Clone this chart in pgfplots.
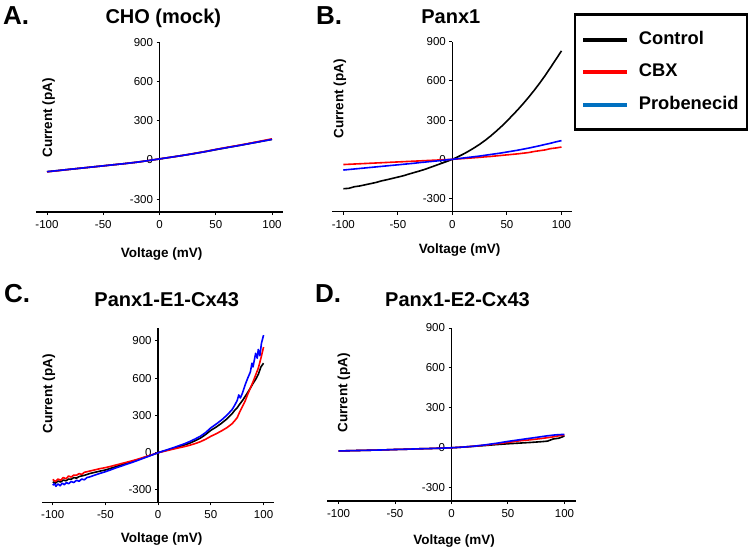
\documentclass[border=0pt]{standalone}
\usepackage{fontspec}
\setmainfont{Liberation Sans}
\usepackage{pgfplots}
\usepackage{pgfplotstable}
\pgfplotsset{compat=1.18}
\definecolor{legblue}{RGB}{0,112,192}

\pgfplotstableread{
V ctl cbx prb
-100 -90 -91 -90
-90 -81 -82 -81
-80 -72 -72 -72
-70 -63 -63 -63
-60 -54 -54 -54
-50 -45 -45 -45
-40 -36 -36 -36
-30 -27 -27 -27
-20 -17 -17 -17
-10 -5 -5 -5
0 8 8 8
10 21 21 21
20 34 34 34
30 48 49 48
40 63 64 63
50 79 81 80
60 95 97 95
70 110 112 110
80 126 128 126
90 142 145 142
100 158 162 158
}\tabA

\pgfplotstableread{
V ctl cbx prb
-100 -225 -40 -82
-95 -222 -38 -78
-90 -210 -36 -74
-85 -204 -34 -70
-80 -195 -32 -66
-75 -186 -30 -62
-70 -177 -28 -58
-65 -165 -26 -54
-60 -156 -24 -50
-55 -146 -22 -46
-50 -136 -20 -42
-45 -126 -18 -38
-40 -113 -16 -34
-35 -101 -14 -30
-30 -89 -12 -25
-25 -76 -10 -21
-20 -61 -8 -17
-15 -46 -6 -13
-10 -31 -4 -9
-5 -16 -2 -4
0 0 0 0
5 19 3 5
10 40 6 10
15 63 9 15
20 88 12 20
25 115 15 25
30 145 19 31
35 178 22 37
40 214 26 43
45 252 30 49
50 293 34 56
55 336 38 63
60 380 42 70
65 427 47 78
70 476 52 86
75 528 60 95
80 583 66 104
85 641 72 114
90 703 82 123
95 766 87 134
100 830 94 143
}\tabB

\pgfplotstableread{
V I
-100 -235
-97.5 -245
-95 -228
-92.5 -236
-90 -220
-87.5 -226
-85 -212
-82.5 -214
-80 -200
-77.5 -205
-75 -192
-70 -182
-65 -168
-60 -158
-55 -148
-50 -139
-45 -126
-40 -112
-35 -99
-30 -86
-25 -72
-20 -58
-15 -44
-10 -29
-5 -15
0 0
5 12
10 24
15 37
20 49
25 62
30 77
35 96
40 117
45 146
50 180
55 206
60 236
65 270
70 312
72.5 340
75 362
77.5 392
80 420
82.5 452
85 485
87.5 520
90 557
92.5 590
95 630
97.5 690
100 720
}\tabCctl

\pgfplotstableread{
V I
-100 -215
-97.5 -232
-95 -212
-92.5 -222
-90 -200
-87.5 -210
-85 -188
-82.5 -196
-80 -180
-77.5 -182
-75 -168
-72.5 -175
-70 -158
-65 -148
-60 -138
-55 -128
-50 -120
-45 -110
-40 -99
-35 -88
-30 -77
-25 -66
-20 -54
-15 -41
-10 -27
-5 -14
0 0
5 10
10 20
15 30
20 40
25 49
30 60
35 73
40 88
45 108
50 132
55 152
60 175
65 200
70 232
72.5 256
75 282
77.5 330
80 372
82.5 415
85 470
87.5 520
90 570
92.5 625
95 680
97.5 760
100 850
}\tabCcbx

\pgfplotstableread{
V I
-100 -262
-98.5 -248
-97 -270
-95 -252
-93 -266
-91 -245
-89 -258
-87 -240
-85 -250
-82.5 -232
-80 -240
-77.5 -222
-75 -230
-72.5 -212
-70 -218
-67.5 -200
-65 -195
-60 -180
-55 -166
-50 -153
-45 -138
-40 -122
-35 -108
-30 -93
-25 -79
-20 -64
-15 -48
-10 -32
-5 -16
0 0
5 14
10 28
15 42
20 57
25 72
30 90
35 110
40 132
45 162
50 200
55 230
60 262
65 300
70 345
72.5 380
75 420
76.5 465
78 440
80 480
82.5 545
85 600
87.5 650
89 720
90 690
92.5 800
94 760
95 830
96.5 780
98 880
100 946
}\tabCprb

\pgfplotstableread{
V ctl cbx prb
-100 -24 -24 -24
-90 -22 -22 -22
-80 -20 -20 -20
-70 -18 -18 -18
-60 -16 -16 -16
-50 -13 -13 -13
-40 -11 -11 -11
-30 -8 -8 -8
-20 -6 -6 -6
-10 -3 -3 -3
0 0 0 0
10 5 5 5
20 11 12 12
30 17 20 22
40 24 30 34
50 30 40 48
60 35 52 60
70 40 60 72
80 46 70 84
85 50 76 90
90 66 82 95
95 72 90 99
100 88 95 100
}\tabD

\pgfplotsset{
  iv/.style={
    scale only axis,
    axis x line*=bottom,
    axis y line*=center,
    xmin=-110, xmax=110,
    xtick={-100,-50,0,50,100},
    ytick={-300,0,300,600,900},
    tick align=outside,
    major tick length=3pt,
    tick style={black, line width=1pt},
    axis line style={black, line width=1.5pt},
    ticklabel style={font=\fontsize{11.5}{13}\selectfont},
    /pgf/number format/assume math mode=true,
    xticklabel style={yshift=-2pt},
    every axis plot/.append style={line width=1.6pt, mark=none, line join=round},
  }
}

\newcommand{\ttl}{\fontsize{20}{24}\selectfont\bfseries}
\newcommand{\lett}{\fontsize{26}{30}\selectfont\bfseries}
\newcommand{\lbl}{\fontsize{13.5}{16}\selectfont\bfseries}

\begin{document}
\begin{tikzpicture}
\useasboundingbox (0pt,0pt) rectangle (749pt,552pt);

% Panel A
\begin{axis}[iv, at={(35.75pt,339.9pt)}, anchor=south west,
  width=247.5pt, height=169.4pt, ymin=-400, ymax=900]
\addplot[black] table[x=V,y=ctl]{\tabA};
\addplot[red] table[x=V,y=cbx]{\tabA};
\addplot[blue] table[x=V,y=prb]{\tabA};
\end{axis}

% Panel B
\begin{axis}[iv, at={(332.4pt,340.4pt)}, anchor=south west,
  width=240pt, height=169.9pt, ymin=-400, ymax=900,
  legend style={at={(axis description cs:1.0046,1.167)}, anchor=north west,
    draw=black, line width=2.5pt, fill=white,
    inner xsep=6.3pt, inner ysep=14.5pt, row sep=11.5pt,
    font=\fontsize{18.3}{20}\selectfont\bfseries,
    nodes={inner xsep=2pt, inner ysep=2pt, text height=13pt, text depth=4pt}},
  legend cell align=left,
  legend image code/.code={\draw[#1, line width=4pt] (0pt,0pt) -- (44pt,0pt); \path (53pt,0pt);}]
\addlegendimage{black}
\addlegendentry{Control}
\addlegendimage{red}
\addlegendentry{CBX}
\addlegendimage{legblue}
\addlegendentry{Probenecid}
\addplot[black, forget plot] table[x=V,y=ctl]{\tabB};
\addplot[red, forget plot] table[x=V,y=cbx]{\tabB};
\addplot[blue, forget plot] table[x=V,y=prb]{\tabB};
\end{axis}

% Panel C
\begin{axis}[iv, at={(42.2pt,49.6pt)}, anchor=south west,
  width=231.9pt, height=174pt, ymin=-400, ymax=1000]
\addplot[black] table[x=V,y=I]{\tabCctl};
\addplot[red] table[x=V,y=I]{\tabCcbx};
\addplot[blue] table[x=V,y=I]{\tabCprb};
\end{axis}

% Panel D
\begin{axis}[iv, at={(327.25pt,51pt)}, anchor=south west,
  width=248.5pt, height=173pt, ymin=-400, ymax=900]
\addplot[black] table[x=V,y=ctl]{\tabD};
\addplot[red] table[x=V,y=cbx]{\tabD};
\addplot[blue] table[x=V,y=prb]{\tabD};
\end{axis}

% Panel letters
\node[anchor=base west, inner sep=0pt, font=\lett] at (3pt,527pt) {A.};
\node[anchor=base west, inner sep=0pt, font=\lett] at (316pt,527pt) {B.};
\node[anchor=base west, inner sep=0pt, font=\lett] at (4pt,249pt) {C.};
\node[anchor=base west, inner sep=0pt, font=\lett] at (315pt,249pt) {D.};

% Titles
\node[anchor=base, inner sep=0pt, font=\ttl] at (163.3pt,528.5pt) {CHO (mock)};
\node[anchor=base, inner sep=0pt, font=\ttl] at (450.8pt,528pt) {Panx1};
\node[anchor=base, inner sep=0pt, font=\ttl] at (166.7pt,245.5pt) {Panx1-E1-Cx43};
\node[anchor=base, inner sep=0pt, font=\ttl] at (457.5pt,245.5pt) {Panx1-E2-Cx43};

% Axis labels
\node[rotate=90, anchor=center, inner sep=0pt, font=\lbl] at (48.7pt,434.2pt) {Current (pA)};
\node[rotate=90, anchor=center, inner sep=0pt, font=\lbl] at (340pt,453pt) {Current (pA)};
\node[rotate=90, anchor=center, inner sep=0pt, font=\lbl] at (49pt,158pt) {Current (pA)};
\node[rotate=90, anchor=center, inner sep=0pt, font=\lbl] at (344pt,159pt) {Current (pA)};

\node[anchor=base, inner sep=0pt, font=\lbl] at (161.7pt,294pt) {Voltage (mV)};
\node[anchor=base, inner sep=0pt, font=\lbl] at (459.7pt,298pt) {Voltage (mV)};
\node[anchor=base, inner sep=0pt, font=\lbl] at (161.7pt,9.6pt) {Voltage (mV)};
\node[anchor=base, inner sep=0pt, font=\lbl] at (454.2pt,8pt) {Voltage (mV)};
\end{tikzpicture}
\end{document}
